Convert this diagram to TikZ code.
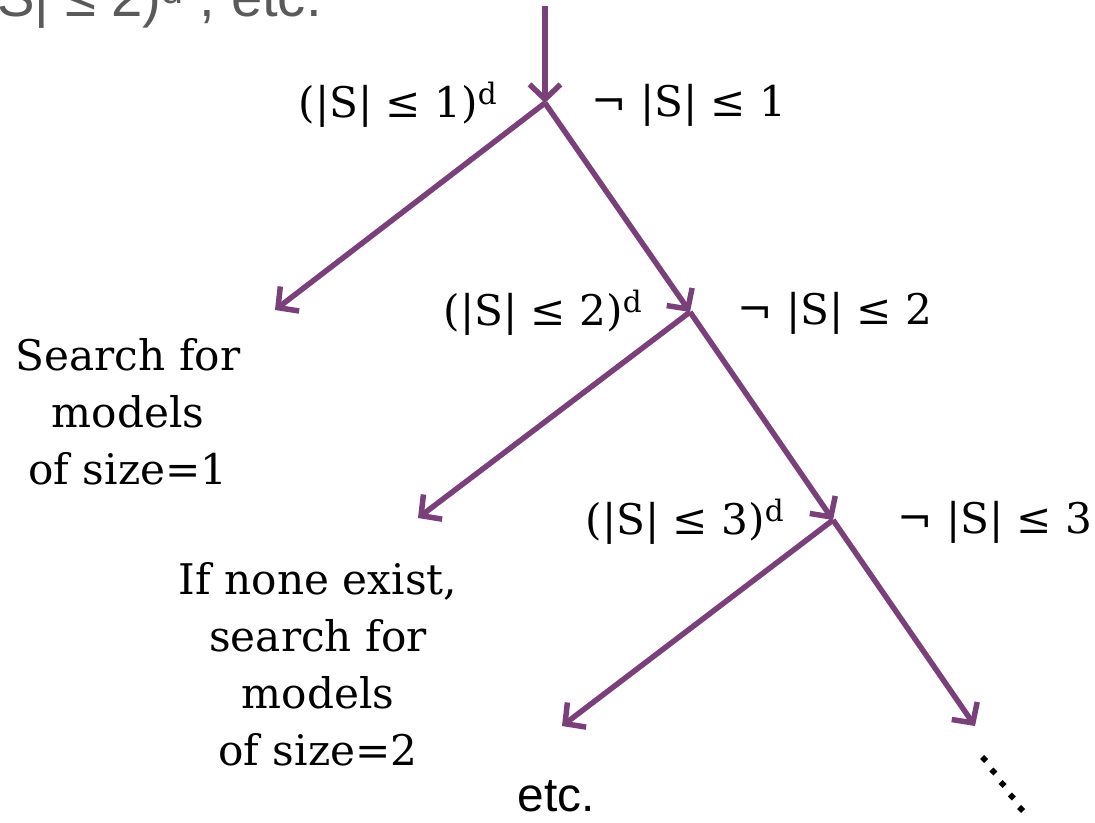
\documentclass[tikz,border=0pt]{standalone}
\usepackage{fontspec}
\setmainfont{DejaVu Serif}
\setsansfont{Liberation Sans}
\usepackage{tikz}
\usetikzlibrary{arrows.meta, positioning, calc}
\definecolor{plum}{HTML}{7A4079}
\definecolor{ashgrey}{HTML}{5A5A5A}

\tikzset{
  branch/.style={plum, line width=3.9pt,
    -{Straight Barb[length=10.5pt,width=22pt,line width=3.9pt]}},
  lbl/.style={font=\fontsize{30}{40.5}\selectfont, inner sep=0pt},
  note/.style={lbl, align=center},
  sanslbl/.style={font=\sffamily\fontsize{34}{40}\selectfont, inner sep=0pt},
}

\begin{document}
\begin{tikzpicture}[x=0.025cm, y=-0.025cm]
  \useasboundingbox (0,0) rectangle (1095,822);
  % Branch points (pixel grid, y downwards)
  \coordinate (top) at (545,6);
  \coordinate (n1) at (545,103);
  \coordinate (n2) at (690,312);
  \coordinate (n3) at (833,520);
  \coordinate (l1) at (275,310);
  \coordinate (l2) at (418,518);
  \coordinate (l3) at (562,726);
  \coordinate (r3) at (975,726);
  % Arrows
  \draw[branch] (top) -- (n1);
  \foreach \from/\to in {n1/l1, n1/n2, n2/l2, n2/n3, n3/l3, n3/r3}
    \draw[branch] (\from) -- (\to);
  % Case labels either side of each split
  \foreach \k/\xin/\xout/\yc in {1/398/689/105, 2/543/835/313, 3/685/995/522}{
    \node[lbl] (in\k) at (\xin,\yc) {(|S| ≤ \k)\textsuperscript{d}};
    \node[lbl] (out\k) at (\xout,\yc) {¬ |S| ≤ \k};
  }
  % Left-branch notes
  \node[note] (size1) at (128,412) {Search for\\models\\of size=1};
  \node[note] (size2) at (318,664) {If none exist,\\search for\\models\\of size=2};
  \node[sanslbl] (etc) at (556,796) {etc.};
  % Cut-off text at the top
  \node[sanslbl, font=\sffamily\fontsize{40}{44}\selectfont, text=ashgrey,
        anchor=base east] (prev) at (322,16) {(|S| ≤ 2)\textsuperscript{d} , etc.};
  % Trailing dots
  \coordinate (dA) at (984,759);
  \coordinate (dB) at (1021,809);
  \foreach \t in {0,...,4}
    \fill ($(dA)!\t/4!(dB)$) ++(0,-4) -- ++(4,4) -- ++(-4,4) -- ++(-4,-4) -- cycle;
\end{tikzpicture}
\end{document}
